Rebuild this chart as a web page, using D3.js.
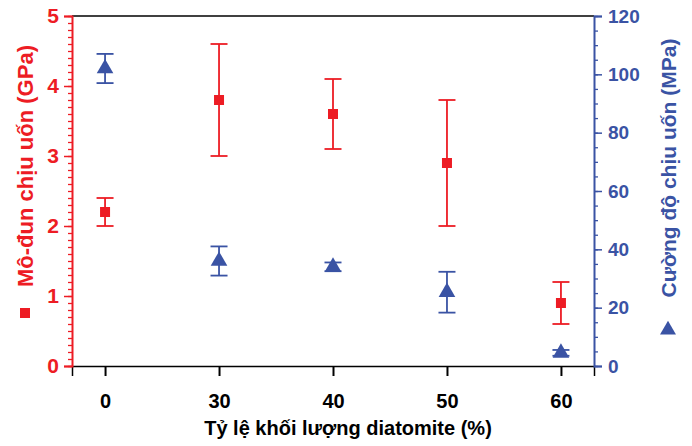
<!DOCTYPE html>
<html>
<head>
<meta charset="utf-8">
<script src="https://cdn.jsdelivr.net/npm/d3@7/dist/d3.min.js"></script>
<style>
  body { margin: 0; background: #fff; }
  svg { font-family: "Liberation Sans", Arial, sans-serif; font-weight: bold; }
</style>
</head>
<body>
<div id="chart"></div>
<script>
const categories = ['0', '30', '40', '50', '60'];
// Mô-đun chịu uốn (GPa)
const modulus = [2.2, 3.8, 3.6, 2.9, 0.9];
const modulusErr = [0.2, 0.8, 0.5, 0.9, 0.3];
// Cường độ chịu uốn (MPa)
const strength = [102, 36, 34, 25.3, 4.5];
const strengthErr = [5, 5, 1.5, 7, 1];

const leftTicks = [0, 1, 2, 3, 4, 5];
const rightTicks = [0, 20, 40, 60, 80, 100, 120];

const red = '#ed1c24';
const blue = '#3a53a4';

const width = 692, height = 446;
const margin = { top: 16, right: 98, bottom: 80, left: 72 };
const innerW = width - margin.left - margin.right;
const innerH = height - margin.top - margin.bottom;

const svg = d3.select('#chart').append('svg')
    .attr('width', width)
    .attr('height', height);

const g = svg.append('g').attr('transform', `translate(${margin.left},${margin.top})`);

const x = d3.scalePoint()
    .domain(categories)
    .range([0, innerW])
    .padding(0.29);

const yL = d3.scaleLinear().domain([0, 5]).range([innerH, 0]);
const yR = d3.scaleLinear().domain([0, 120]).range([innerH, 0]);

// frame top
g.append('line').attr('x1', 0).attr('x2', innerW).attr('y1', 0).attr('y2', 0)
    .attr('stroke', '#000').attr('stroke-width', 1.5);

// x axis
const xAxis = g.append('g')
    .attr('transform', `translate(0,${innerH})`)
    .call(d3.axisBottom(x).tickSize(10).tickPadding(18));
xAxis.select('.domain').attr('stroke', '#000').attr('stroke-width', 1.5);
xAxis.selectAll('.tick line').attr('stroke-width', 2);
xAxis.selectAll('text').attr('font-size', 20).attr('font-weight', 'bold').attr('fill', '#000')
    .attr('font-family', '"Liberation Sans", Arial, sans-serif');

// left axis minor ticks
const leftAx = g.append('g');
leftAx.call(d3.axisLeft(yL).tickValues(d3.range(0, 5.001, 0.1)).tickSize(4).tickFormat(''));
leftAx.selectAll('.tick line').attr('stroke', red).attr('stroke-width', 1.3);
leftAx.select('.domain').remove();
const leftMaj = g.append('g')
    .call(d3.axisLeft(yL).tickValues(leftTicks).tickSize(8).tickPadding(5).tickFormat(d3.format('d')));
leftMaj.select('.domain').attr('stroke', red).attr('stroke-width', 2);
leftMaj.selectAll('.tick line').attr('stroke', red).attr('stroke-width', 1.5);
leftMaj.selectAll('text').attr('fill', red).attr('font-size', 21).attr('font-weight', 'bold')
    .attr('font-family', '"Liberation Sans", Arial, sans-serif');

// right axis
const rightAx = g.append('g').attr('transform', `translate(${innerW},0)`);
rightAx.call(d3.axisRight(yR).tickValues(d3.range(0, 120.001, 5)).tickSize(4).tickFormat(''));
rightAx.selectAll('.tick line').attr('stroke', blue).attr('stroke-width', 1.3);
rightAx.select('.domain').remove();
const rightMaj = g.append('g').attr('transform', `translate(${innerW},0)`)
    .call(d3.axisRight(yR).tickValues(rightTicks).tickSize(8).tickPadding(6).tickFormat(d3.format('d')));
rightMaj.select('.domain').attr('stroke', blue).attr('stroke-width', 2);
rightMaj.selectAll('.tick line').attr('stroke', blue).attr('stroke-width', 1.5);
rightMaj.selectAll('text').attr('fill', blue).attr('font-size', 19).attr('font-weight', 'bold')
    .attr('font-family', '"Liberation Sans", Arial, sans-serif');

// error bars helper
function errorBars(values, errs, scale, color) {
    const cap = 8.5;
    const grp = g.append('g').attr('stroke', color).attr('stroke-width', 1.8).attr('fill', 'none');
    values.forEach((v, i) => {
        const cx = x(categories[i]);
        const y0 = scale(v - errs[i]), y1 = scale(v + errs[i]);
        grp.append('line').attr('x1', cx).attr('x2', cx).attr('y1', y0).attr('y2', y1);
        grp.append('line').attr('x1', cx - cap).attr('x2', cx + cap).attr('y1', y0).attr('y2', y0);
        grp.append('line').attr('x1', cx - cap).attr('x2', cx + cap).attr('y1', y1).attr('y2', y1);
    });
}

errorBars(modulus, modulusErr, yL, red);
errorBars(strength, strengthErr, yR, blue);

g.selectAll('.sq').data(modulus).enter().append('rect')
    .attr('class', 'sq')
    .attr('x', (d, i) => x(categories[i]) - 5)
    .attr('y', d => yL(d) - 5)
    .attr('width', 10).attr('height', 10)
    .attr('fill', red);

const tri = d3.symbol().type(d3.symbolTriangle).size(120);
g.selectAll('.tri').data(strength).enter().append('path')
    .attr('class', 'tri')
    .attr('transform', (d, i) => `translate(${x(categories[i])},${yR(d)})`)
    .attr('d', tri)
    .attr('fill', blue);

// x title
svg.append('text')
    .attr('x', 348)
    .attr('y', 435)
    .attr('text-anchor', 'middle')
    .attr('font-size', 20)
    .attr('fill', '#000')
    .text('Tỷ lệ khối lượng diatomite (%)');

// left title
const lt = svg.append('g').attr('transform', 'translate(33,166) rotate(-90)');
lt.append('text').attr('text-anchor', 'middle').attr('font-size', 22).attr('fill', red)
    .text('Mô-đun chịu uốn (GPa)');
lt.append('rect').attr('x', -152).attr('y', -13).attr('width', 10).attr('height', 10).attr('fill', red);

// right title
const rt = svg.append('g').attr('transform', 'translate(676,168) rotate(-90)');
rt.append('text').attr('text-anchor', 'middle').attr('font-size', 21).attr('fill', blue)
    .text('Cường độ chịu uốn (MPa)');
rt.append('path').attr('d', d3.symbol().type(d3.symbolTriangle).size(110))
    .attr('transform', 'translate(-162,-8) rotate(90)').attr('fill', blue);
</script>
</body>
</html>
